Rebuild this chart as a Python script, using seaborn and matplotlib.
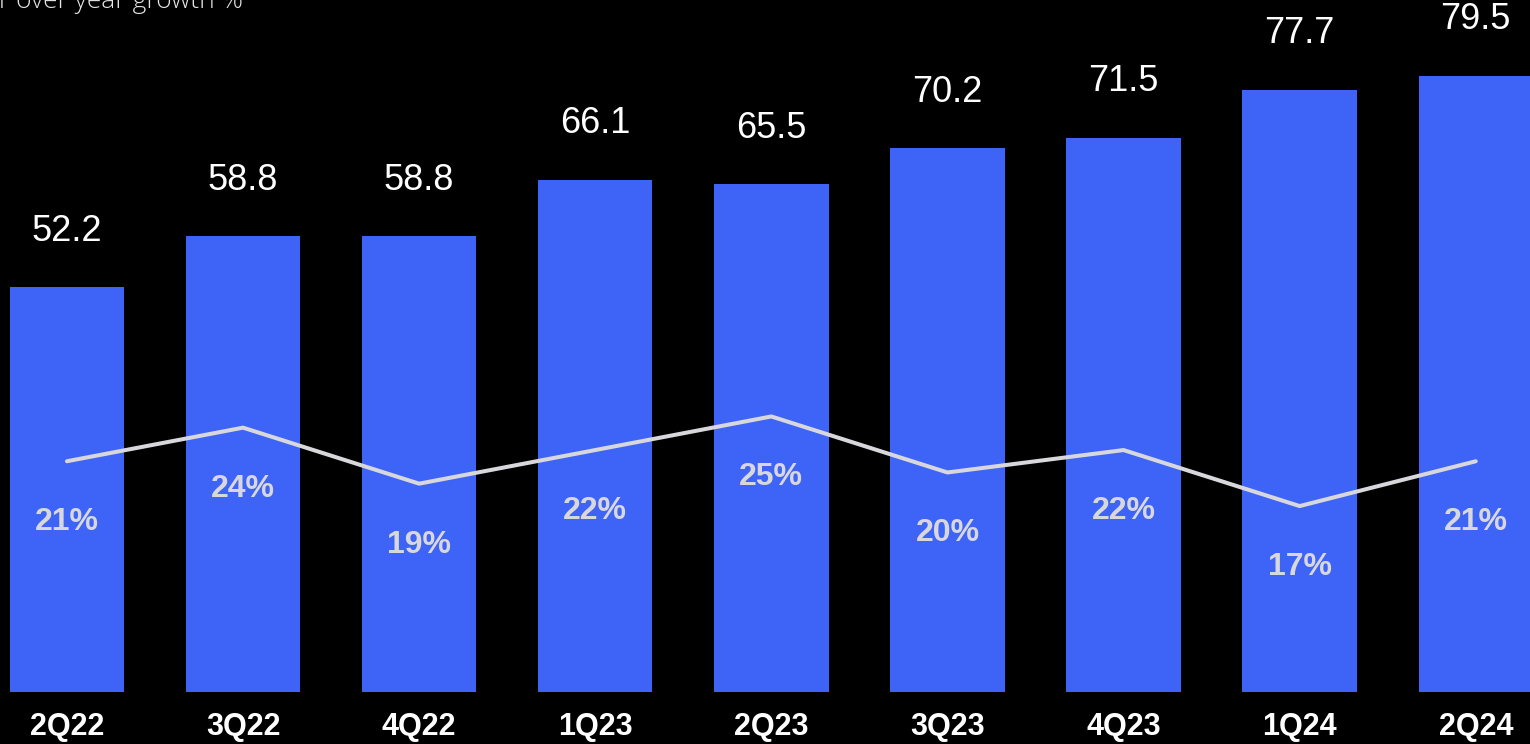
import matplotlib
matplotlib.use("Agg")
import matplotlib.pyplot as plt
import seaborn as sns
import numpy as np
import pandas as pd

quarters = ["2Q22", "3Q22", "4Q22", "1Q23", "2Q23", "3Q23", "4Q23", "1Q24", "2Q24"]
revenue = [52.2, 58.8, 58.8, 66.1, 65.5, 70.2, 71.5, 77.7, 79.5]
growth_pct = [21, 24, 19, 22, 25, 20, 22, 17, 21]
subtitle = "Year over year growth %"

BAR_COLOR = "#3D63F7"
LINE_COLOR = "#D8D8DC"
BG = "#000000"

sns.set_theme(style="white")
plt.rcParams["font.family"] = ["Liberation Sans", "DejaVu Sans"]

W, H, DPI = 1530, 744, 100
fig = plt.figure(figsize=(W / DPI, H / DPI), dpi=DPI, facecolor=BG)
ax = fig.add_axes([0, (H - 692) / H, 1, 692 / H])
ax.set_facecolor(BG)

df = pd.DataFrame({"quarter": quarters, "revenue": revenue, "growth": growth_pct})

sns.barplot(data=df, x="quarter", y="revenue", color=BAR_COLOR, width=0.65,
            saturation=1, edgecolor="none", linewidth=0, ax=ax)
ax.set_xlim(-0.380, 8.308)
ax.set_ylim(0, 89.3)

for i, v in enumerate(revenue):
    ax.annotate(f"{v:.1f}", xy=(i, v), xytext=(0, 56 * 72 / DPI),
                textcoords="offset points", ha="center", va="center",
                color="white", fontsize=26)

ax.set_xlabel("")
ax.set_ylabel("")
ax.set_yticks([])
ax.tick_params(axis="x", length=0, pad=35 * 72 / DPI - 11, labelsize=22,
               labelcolor="white")
for lab in ax.get_xticklabels():
    lab.set_fontweight("bold")
for s in ax.spines.values():
    s.set_visible(False)

ax2 = ax.twinx()
x_pos = np.arange(len(quarters))
sns.lineplot(x=x_pos, y=growth_pct, color=LINE_COLOR, linewidth=2.9, ax=ax2)
ax2.set_ylim(0.40, 62.18)
ax2.set_xlim(-0.380, 8.308)
ax2.set_yticks([])
ax2.set_ylabel("")
for s in ax2.spines.values():
    s.set_visible(False)
for i, g in enumerate(growth_pct):
    ax2.annotate(f"{g}%", xy=(i, g), xytext=(0, -61 * 72 / DPI),
                 textcoords="offset points", ha="center", va="center",
                 color=LINE_COLOR, fontsize=23, fontweight="bold")

fig.text(243 / W, 1 - 8 / H, subtitle, ha="right", va="baseline",
         color="#E6E6E6", fontsize=19, family=["Open Sans", "DejaVu Sans"],
         fontweight="light")

fig.savefig("out.png", dpi=DPI, facecolor=BG)
